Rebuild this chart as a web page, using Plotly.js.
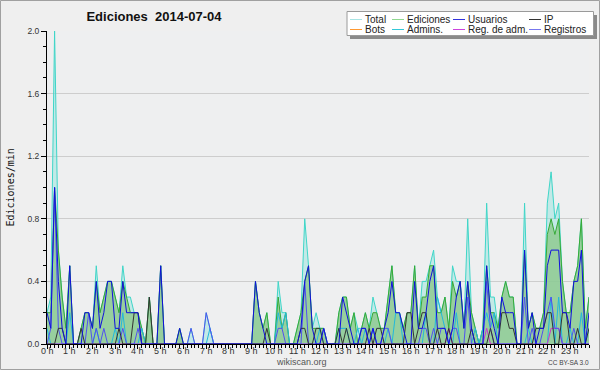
<!DOCTYPE html>
<html><head><meta charset="utf-8">
<script src="https://cdn.plot.ly/plotly-3.0.1.min.js"></script>
<style>html,body{margin:0;padding:0;background:#efefef;}#chart{width:600px;height:370px;}</style>
</head><body><div id="chart"></div>
<script>
// one value every 10 minutes (6 per hour row), edits per minute
const totalVals = [
0.2,0.3,2.0,0.6,0.3,0.1, 0.5,0,0,0.1,0.2,0.2, 0.1,0.5,0.2,0.3,0.4,0.4, 0.3,0.2,0.5,0.3,0.3,0.2,
0.2,0.1,0,0.3,0,0, 0.5,0,0,0,0,0.1, 0,0,0.1,0,0,0, 0.2,0.1,0,0,0,0,
0,0,0,0,0,0, 0,0.4,0.2,0.1,0.2,0, 0,0.4,0.2,0.2,0,0, 0.1,0.2,0.8,0.5,0.1,0.2,
0.1,0.1,0,0,0,0.2, 0.3,0.3,0.1,0.2,0.1,0.1, 0.2,0.1,0.3,0.2,0.1,0.1, 0.3,0.5,0.2,0.2,0.1,0.2,
0.2,0.5,0.1,0.4,0.4,0.5, 0.6,0.3,0.2,0.3,0.1,0.5, 0.4,0.4,0.1,0.8,0.2,0.1, 0,0.1,0.9,0.3,0.3,0.1,
0.3,0.4,0.3,0.3,0,0, 0.9,0.1,0.2,0.1,0.1,0.2, 0.9,1.1,0.8,0.9,0.4,0.2, 0.2,0.4,0.5,0.8,0.1,0.3];
const edicionesVals = [
0.2,0.2,1.0,0.6,0.3,0.1, 0.5,0,0,0.1,0.2,0.2, 0.1,0.4,0.2,0.3,0.4,0.4, 0.3,0.2,0.4,0.3,0.2,0.2,
0.2,0.1,0,0.3,0,0, 0.5,0,0,0,0,0.1, 0,0,0,0,0,0, 0,0,0,0,0,0,
0,0,0,0,0,0, 0,0.4,0.2,0.1,0.2,0, 0,0.3,0.1,0.2,0,0, 0.1,0.2,0.4,0.5,0.1,0.1,
0.1,0.1,0,0,0,0.2, 0.3,0.3,0.1,0.2,0,0.1, 0.2,0.1,0.2,0.2,0.1,0.1, 0.3,0.5,0.2,0.2,0.1,0.2,
0.2,0.5,0.1,0.3,0.3,0.5, 0.5,0.2,0.2,0.3,0.1,0.4, 0.3,0.4,0.1,0.4,0.2,0.1, 0,0.1,0.5,0.2,0.2,0.1,
0.3,0.4,0.3,0.3,0,0, 0.6,0.1,0.2,0.1,0.1,0.2, 0.7,0.8,0.7,0.8,0.4,0.2, 0.2,0.4,0.5,0.8,0.1,0.3];
const usuariosVals = [
0.2,0.1,1.0,0.4,0.1,0, 0.5,0,0,0,0.2,0.2, 0.1,0.4,0.1,0.2,0.4,0.4, 0.1,0.1,0.4,0.2,0.2,0.2,
0.2,0,0,0,0,0, 0.5,0,0,0,0,0.1, 0,0,0,0,0,0, 0,0,0,0,0,0,
0,0,0,0,0,0, 0,0.4,0.2,0.1,0,0, 0,0,0,0,0,0, 0,0.1,0.4,0.5,0.1,0,
0,0.1,0,0,0,0, 0.3,0.2,0.1,0,0,0.1, 0.1,0,0.1,0,0,0.1, 0.2,0.4,0.2,0.2,0.1,0,
0,0.4,0.1,0.1,0.2,0.4, 0.5,0.1,0.1,0.1,0,0.1, 0.3,0.4,0.1,0.4,0.1,0, 0,0,0.5,0.2,0.1,0,
0.3,0.2,0.2,0.2,0,0, 0.6,0.1,0.2,0,0.1,0.1, 0.5,0.6,0.6,0.6,0.2,0.2, 0.1,0.4,0.4,0.6,0,0.2];
const ipVals = [
0,0,0,0.1,0.1,0, 0,0,0,0.1,0,0, 0,0,0,0,0,0, 0,0.1,0,0,0,0.2,
0.2,0,0,0.3,0,0, 0,0,0,0,0,0, 0,0,0,0,0,0, 0,0,0,0,0,0,
0,0,0,0,0,0, 0,0,0,0,0.1,0, 0,0,0,0,0,0, 0,0.1,0.1,0,0,0.1,
0.1,0,0,0,0,0.1, 0,0.1,0,0,0,0, 0,0.1,0,0.1,0.1,0, 0,0,0,0,0,0.2,
0.2,0,0.1,0.2,0.2,0, 0,0.1,0,0,0.1,0, 0,0,0,0,0.1,0, 0,0,0,0.1,0,0,
0.2,0.2,0.1,0.1,0,0, 0,0,0,0.1,0.1,0.1, 0.2,0.2,0,0,0.2,0.2, 0,0,0.1,0,0,0.1];
const adminsVals = [
0.1,0,0,0,0,0, 0.2,0,0,0,0,0, 0,0.1,0,0,0,0, 0.1,0,0.2,0,0,0,
0,0.1,0,0,0,0, 0,0,0,0,0,0, 0,0,0,0,0,0, 0,0.1,0,0,0,0,
0,0,0,0,0,0, 0,0,0,0,0,0, 0,0.2,0.1,0.2,0,0, 0,0,0,0,0,0,
0.1,0,0,0,0,0.1, 0.1,0.1,0,0,0.1,0, 0.1,0,0.1,0,0,0, 0.1,0,0.2,0.2,0,0,
0,0,0,0,0.2,0, 0,0.3,0.2,0.1,0,0, 0.2,0,0,0,0,0.1, 0,0.1,0.2,0.1,0.2,0,
0,0,0,0,0,0, 0,0.1,0,0,0,0, 0,0.3,0,0.3,0,0, 0.1,0,0,0.2,0,0.1];
const registrosVals = [
0,0.1,1.0,0.1,0,0, 0,0,0,0,0,0.2, 0,0.1,0,0.1,0,0, 0,0,0.1,0,0,0,
0.1,0,0,0,0,0, 0,0,0,0,0,0, 0,0,0.1,0,0,0, 0.2,0.1,0,0,0,0,
0,0,0,0,0,0, 0,0,0,0,0,0, 0,0.1,0.1,0,0,0, 0,0,0.4,0,0,0,
0,0.1,0,0,0,0, 0,0,0,0,0,0.1, 0.1,0,0.1,0,0,0.1, 0.1,0,0,0,0,0,
0,0,0,0.1,0.1,0, 0.1,0,0.1,0.1,0,0.1, 0.1,0,0,0.3,0,0, 0,0,0.4,0.1,0,0,
0,0,0,0,0,0, 0.3,0,0.1,0,0,0.1, 0.2,0.3,0.1,0.1,0,0, 0,0.1,0,0,0,0];
const regAdmVals = [
0,0,0,0,0,0, 0,0,0,0,0,0, 0,0,0,0,0,0, 0,0,0,0,0,0,
0,0,0,0,0,0, 0,0,0,0,0,0, 0,0,0,0,0,0, 0,0,0,0,0,0,
0,0,0,0,0,0, 0,0,0,0,0,0, 0,0,0,0,0,0, 0,0,0,0,0,0,
0,0,0,0,0,0, 0,0,0,0,0,0, 0,0,0,0,0,0, 0,0,0,0,0,0,
0,0,0,0,0,0, 0,0,0,0,0.1,0, 0,0,0,0,0,0, 0,0,0.1,0,0,0,
0,0,0,0,0,0, 0,0,0,0,0,0, 0,0.1,0.1,0.1,0,0, 0,0,0,0,0,0];
const hourVals = [0,1,2,3,4,5,6,7,8,9,10,11,12,13,14,15,16,17,18,19,20,21,22,23];
const hourLabels = ["0 h","1 h","2 h","3 h","4 h","5 h","6 h","7 h","8 h","9 h","10 h","11 h","12 h","13 h","14 h","15 h","16 h","17 h","18 h","19 h","20 h","21 h","22 h","23 h"];
const yTickVals = [0,0.4,0.8,1.2,1.6,2.0];
const yTickLabels = ["0.0","0.4","0.8","1.2","1.6","2.0"];
const legendNames = ["Total","Ediciones","Usuarios","IP","Bots","Admins.","Reg. de adm.","Registros"];
const legendColors = ["#a8e4e4","#90d890","#3333dd","#333333","#ff9a33","#33c8d8","#cc44dd","#7777ee"];

const times = totalVals.map((_, i) => i / 6);

function line(y, color, extra) {
  return Object.assign({x: times, y: y, type: 'scatter', mode: 'lines',
    line: {color: color, width: 1}, hoverinfo: 'skip', showlegend: false}, extra || {});
}
const traces = [
  line(totalVals, '#3fd6c8', {fill: 'tozeroy', fillcolor: 'rgba(150,228,222,0.5)'}),
  line(edicionesVals, '#36aa36', {fill: 'tozeroy', fillcolor: 'rgba(140,200,140,0.8)'}),
  line(adminsVals, '#22b8dc'),
  line(regAdmVals, '#cc33cc'),
  line(registrosVals, '#5050f0'),
  line(ipVals, '#333333'),
  line(usuariosVals, '#1010dd')
];

const PL = 47, PT = 31, PW = 542, PH = 313;
const fx = p => (p - PL) / PW;
const fy = p => (PT + PH - p) / PH;
const labelFont = {family: 'Liberation Sans, Arial, sans-serif', size: 9, color: '#333'};

const shapes = [
  {type:'rect', xref:'paper', yref:'paper', x0: fx(0.5), x1: fx(599.5), y0: fy(0.5), y1: fy(369.5), line:{color:'#a0a0a0', width:1}},
  {type:'rect', xref:'paper', yref:'paper', x0: fx(350), x1: fx(597), y0: fy(15), y1: fy(39), fillcolor:'#8a8a8a', line:{width:0}},
  {type:'rect', xref:'paper', yref:'paper', x0: fx(347), x1: fx(593.5), y0: fy(11.5), y1: fy(35.5), fillcolor:'#ffffff', line:{color:'#9a9a9a', width:1}}
];
const annotations = [];
const swX = [350, 392, 453, 529];
const txX = [363, 405, 466, 542];
const rowY = [19.5, 29.5];
legendNames.forEach((name, k) => {
  const c = k % 4, r = Math.floor(k / 4);
  shapes.push({type:'line', xref:'paper', yref:'paper', x0: fx(swX[c]), x1: fx(swX[c] + 12), y0: fy(rowY[r]), y1: fy(rowY[r]), line:{color: legendColors[k], width:1}});
  annotations.push({xref:'paper', yref:'paper', x: fx(txX[c]), y: fy(rowY[r]), xanchor:'left', yanchor:'middle', text: name, showarrow:false,
    font:{family:'Liberation Sans, Arial, sans-serif', size:10, color:'#222'}});
});
hourVals.forEach((h, k) => {
  annotations.push({xref:'x', yref:'paper', x: h, y: fy(350.5), xanchor:'center', yanchor:'middle',
    text: hourLabels[k], showarrow:false, font: labelFont});
});
annotations.push({xref:'paper', yref:'paper', x: fx(10), y: fy(187.5), text:'Ediciones/min', textangle:-90, showarrow:false,
  xanchor:'center', yanchor:'middle', font:{family:'DejaVu Sans Mono, monospace', size:10, color:'#111'}});
annotations.push({xref:'paper', yref:'paper', x: fx(301), y: fy(362), text:'wikiscan.org', showarrow:false,
  xanchor:'center', yanchor:'middle', font:{family:'Liberation Sans, Arial, sans-serif', size:9, color:'#555'}});
annotations.push({xref:'paper', yref:'paper', x: fx(591), y: fy(362.5), text:'CC BY-SA 3.0', showarrow:false,
  xanchor:'right', yanchor:'middle', font:{family:'Liberation Sans, Arial, sans-serif', size:6.5, color:'#444'}});

const layout = {
  width: 600, height: 370,
  margin: {l: PL, r: 600 - PL - PW, t: PT, b: 370 - PT - PH, pad: 0},
  paper_bgcolor: '#efefef', plot_bgcolor: '#eeeff0',
  showlegend: false,
  title: {text: 'Ediciones\u00a0 2014-07-04', x: 154 / 600, xanchor: 'center', y: 1 - 16 / 370, yanchor: 'middle',
    xref: 'container', yref: 'container', font: {family: 'Liberation Sans, Arial, sans-serif', size: 13, color: '#111', weight: 'bold'}},
  xaxis: {range: [0, 143 / 6], tickmode: 'array', tickvals: hourVals, ticktext: hourLabels, showticklabels: false,
    showgrid: false, zeroline: false, showline: true, linecolor: '#000', linewidth: 1,
    ticks: 'outside', ticklen: 4, tickcolor: '#000', tickwidth: 1,
    minor: {dtick: 1 / 6, tick0: 0, ticks: 'outside', ticklen: 3, tickcolor: '#000', showgrid: false},
    fixedrange: true},
  yaxis: {range: [0, 2.0], tickmode: 'array', tickvals: yTickVals, ticktext: yTickLabels,
    showgrid: true, gridcolor: '#cdcdcd', gridwidth: 1, zeroline: false, showline: true, linecolor: '#000', linewidth: 1,
    ticks: 'outside', ticklen: 5, tickcolor: '#000', tickwidth: 1,
    tickfont: {family: 'Liberation Sans, Arial, sans-serif', size: 8.5, color: '#333'},
    minor: {dtick: 0.1, tick0: 0, ticks: 'outside', ticklen: 3, tickcolor: '#000', showgrid: false},
    fixedrange: true},
  shapes: shapes,
  annotations: annotations
};
Plotly.newPlot('chart', traces, layout, {staticPlot: true, displayModeBar: false});
</script></body></html>
